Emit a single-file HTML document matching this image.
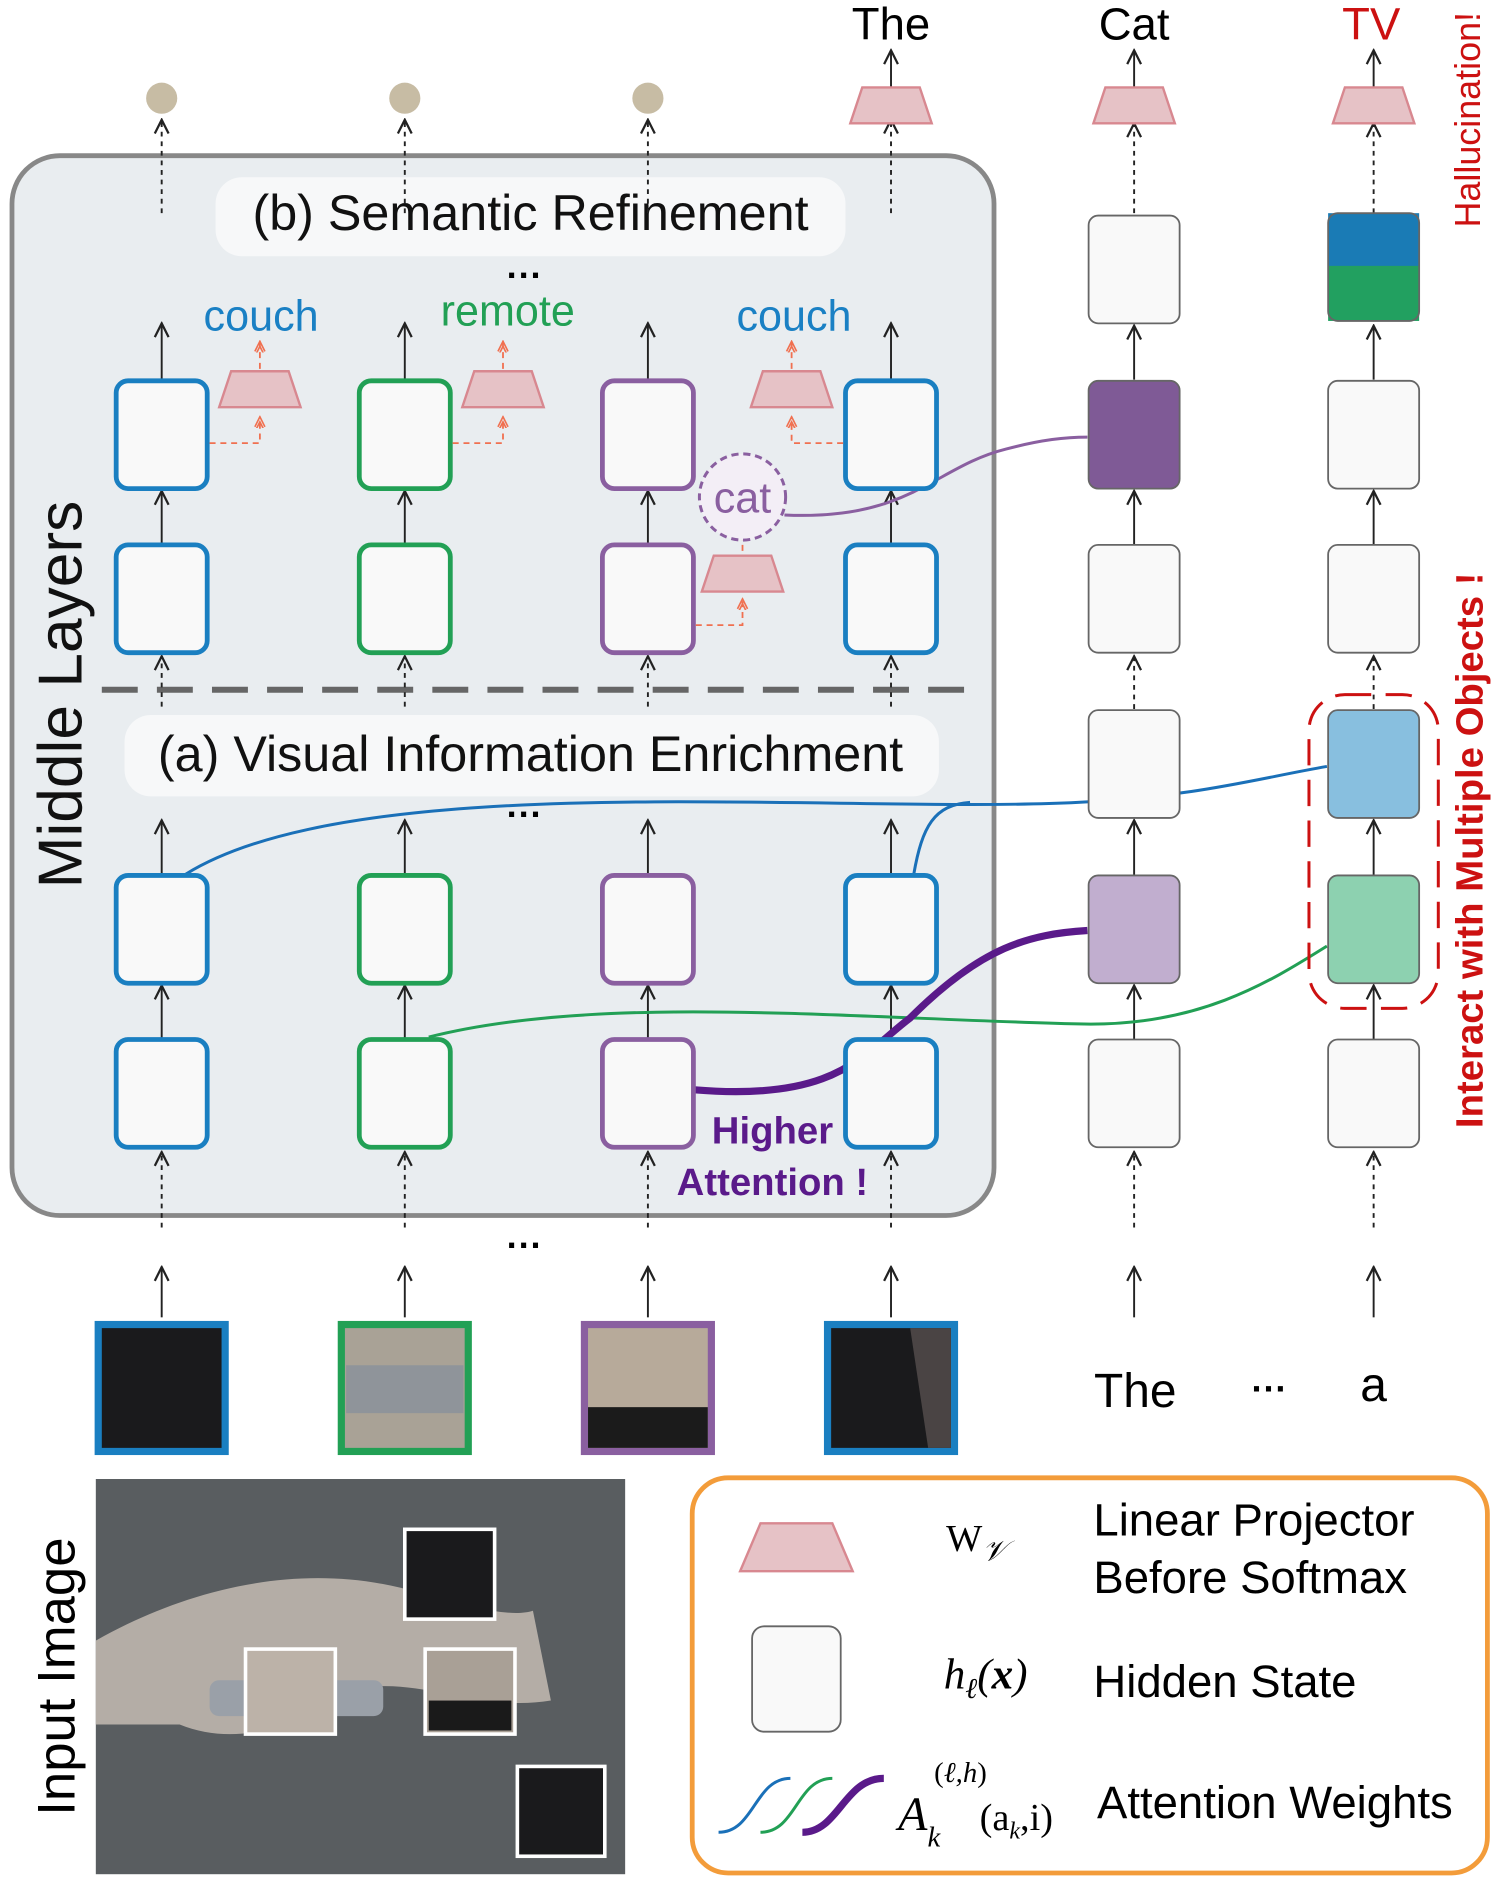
<!DOCTYPE html>
<html><head><meta charset="utf-8"><style>
html,body{margin:0;padding:0;background:#fff}
svg{display:block}
text{font-family:"Liberation Sans",sans-serif}
text.s{font-family:"Liberation Serif",serif}
</style></head><body>
<svg width="1497" height="1879" viewBox="0 0 1250 1569" xmlns="http://www.w3.org/2000/svg">
<defs>
<marker id="ah" viewBox="0 0 10 10" refX="9" refY="5" markerWidth="9" markerHeight="9" orient="auto-start-reverse"><path d="M1,1 L9,5 L1,9" fill="none" stroke="#222" stroke-width="1.3"/></marker>
<marker id="ahr" viewBox="0 0 10 10" refX="9" refY="5" markerWidth="7" markerHeight="7" orient="auto"><path d="M1,1 L9,5 L1,9 M-3,1 L5,5 L-3,9" fill="none" stroke="#f07050" stroke-width="1.3"/></marker>
<g id="tr"><polygon points="-24,-15 24,-15 34,15 -34,15" fill="#e6c2c6" stroke="#d88890" stroke-width="2"/></g>
</defs>
<rect x="10" y="130" width="820" height="885" rx="40" fill="#e9edf0" stroke="#888" stroke-width="4"/>
<rect x="180" y="148" width="526" height="66" rx="22" fill="#f7f8f9"/>
<text x="443" y="192" font-size="42" text-anchor="middle" fill="#111">(b) Semantic Refinement</text>
<rect x="104" y="597" width="680" height="68" rx="22" fill="#f7f8f9"/>
<text x="443" y="644" font-size="42" text-anchor="middle" fill="#111">(a) Visual Information Enrichment</text>
<text transform="translate(68,580) rotate(-90)" font-size="52" text-anchor="middle" fill="#111">Middle Layers</text>
<line x1="85" y1="576" x2="808" y2="576" stroke="#666" stroke-width="5" stroke-dasharray="30 16"/>
<text x="438" y="240" font-size="30" text-anchor="middle" font-weight="bold">···</text>
<text x="438" y="690" font-size="30" text-anchor="middle" font-weight="bold">···</text>
<text x="438" y="1050" font-size="30" text-anchor="middle" font-weight="bold">···</text>
<text x="1060" y="1170" font-size="30" text-anchor="middle" font-weight="bold">···</text>

<g stroke="#222" stroke-width="1.6" fill="none">
<g id="colarrows">
<line x1="135" y1="1025" x2="135" y2="962" stroke-dasharray="4 4" marker-end="url(#ah)"/>
<line x1="135" y1="868" x2="135" y2="823" marker-end="url(#ah)"/>
<line x1="135" y1="731" x2="135" y2="685" marker-end="url(#ah)"/>
<line x1="135" y1="590" x2="135" y2="548" stroke-dasharray="4 4" marker-end="url(#ah)"/>
<line x1="135" y1="455" x2="135" y2="410" marker-end="url(#ah)"/>
<line x1="135" y1="317" x2="135" y2="270" marker-end="url(#ah)"/>
<line x1="135" y1="178" x2="135" y2="100" stroke-dasharray="4 4" marker-end="url(#ah)"/>
<line x1="135" y1="1100" x2="135" y2="1058" marker-end="url(#ah)"/>
</g>
<use href="#colarrows" x="203"/>
<use href="#colarrows" x="406"/>
<use href="#colarrows" x="609"/>
<g id="c5">
<line x1="947" y1="1025" x2="947" y2="962" stroke-dasharray="4 4" marker-end="url(#ah)"/>
<line x1="947" y1="868" x2="947" y2="823" marker-end="url(#ah)"/>
<line x1="947" y1="731" x2="947" y2="685" marker-end="url(#ah)"/>
<line x1="947" y1="592" x2="947" y2="548" stroke-dasharray="4 4" marker-end="url(#ah)"/>
<line x1="947" y1="455" x2="947" y2="410" marker-end="url(#ah)"/>
<line x1="947" y1="317" x2="947" y2="272" marker-end="url(#ah)"/>
<line x1="947" y1="178" x2="947" y2="103" stroke-dasharray="4 4" marker-end="url(#ah)"/>
<line x1="947" y1="75" x2="947" y2="42" marker-end="url(#ah)"/>
<line x1="947" y1="1100" x2="947" y2="1058" marker-end="url(#ah)"/>
</g>
<use href="#c5" x="200"/>
<line x1="744" y1="75" x2="744" y2="42" marker-end="url(#ah)"/>
</g>

<circle cx="135" cy="82" r="13" fill="#c7bca4"/>
<circle cx="338" cy="82" r="13" fill="#c7bca4"/>
<circle cx="541" cy="82" r="13" fill="#c7bca4"/>
<use href="#tr" x="744" y="88"/><use href="#tr" x="947" y="88"/><use href="#tr" x="1147" y="88"/>
<text x="744" y="33" font-size="38" text-anchor="middle">The</text>
<text x="947" y="33" font-size="38" text-anchor="middle">Cat</text>
<text x="1145" y="33" font-size="38" text-anchor="middle" fill="#cc1111">TV</text>
<text transform="translate(1236,100) rotate(-90)" font-size="30" text-anchor="middle" fill="#cc1111">Hallucination!</text>
<text transform="translate(1238,710) rotate(-90)" font-size="32" font-weight="bold" text-anchor="middle" fill="#cc1111">Interact with Multiple Objects !</text>

<path d="M155,730 C300,640 700,680 900,670 C1000,665 1050,650 1108,640" stroke="#1a70b8" stroke-width="2.5" fill="none"/>
<path d="M763,730 C770,690 780,672 810,670" stroke="#1a70b8" stroke-width="2.5" fill="none"/>
<path d="M358,866 C500,830 700,850 900,855 C1000,858 1060,820 1108,790" stroke="#22a055" stroke-width="2.5" fill="none"/>
<path d="M580,910 C700,920 720,880 760,850 C820,790 860,780 908,777" stroke="#5a1a8a" stroke-width="6" fill="none"/>
<path d="M655,430 C760,435 780,390 840,375 C870,367 890,365 908,365" stroke="#8a5fa0" stroke-width="2.5" fill="none"/>
<rect x="1093" y="580" width="108" height="262" rx="30" fill="none" stroke="#cc1111" stroke-width="2.5" stroke-dasharray="22 12"/>

<g stroke-width="4" fill="#f9f9f9">
<g stroke="#1a7fc1"><rect x="97" y="318" width="76" height="90" rx="10"/><rect x="97" y="455" width="76" height="90" rx="10"/><rect x="97" y="731" width="76" height="90" rx="10"/><rect x="97" y="868" width="76" height="90" rx="10"/>
<rect x="706" y="318" width="76" height="90" rx="10"/><rect x="706" y="455" width="76" height="90" rx="10"/><rect x="706" y="731" width="76" height="90" rx="10"/><rect x="706" y="868" width="76" height="90" rx="10"/></g>
<g stroke="#22a055"><rect x="300" y="318" width="76" height="90" rx="10"/><rect x="300" y="455" width="76" height="90" rx="10"/><rect x="300" y="731" width="76" height="90" rx="10"/><rect x="300" y="868" width="76" height="90" rx="10"/></g>
<g stroke="#8a5fa0"><rect x="503" y="318" width="76" height="90" rx="10"/><rect x="503" y="455" width="76" height="90" rx="10"/><rect x="503" y="731" width="76" height="90" rx="10"/><rect x="503" y="868" width="76" height="90" rx="10"/></g>
</g>
<g stroke="#666" stroke-width="1.5">
<rect x="909" y="180" width="76" height="90" rx="8" fill="#f9f9f9"/>
<rect x="909" y="318" width="76" height="90" rx="8" fill="#7f5a96"/>
<rect x="909" y="455" width="76" height="90" rx="8" fill="#f9f9f9"/>
<rect x="909" y="593" width="76" height="90" rx="8" fill="#f9f9f9"/>
<rect x="909" y="731" width="76" height="90" rx="8" fill="#c1aecf"/>
<rect x="909" y="868" width="76" height="90" rx="8" fill="#f9f9f9"/>
<rect x="1109" y="318" width="76" height="90" rx="8" fill="#f9f9f9"/>
<rect x="1109" y="455" width="76" height="90" rx="8" fill="#f9f9f9"/>
<rect x="1109" y="593" width="76" height="90" rx="8" fill="#88bfdf"/>
<rect x="1109" y="731" width="76" height="90" rx="8" fill="#8dd1b0"/>
<rect x="1109" y="868" width="76" height="90" rx="8" fill="#f9f9f9"/>
</g>
<rect x="1109" y="178" width="76" height="46" fill="#1a7bb5"/>
<rect x="1109" y="222" width="76" height="46" fill="#22a060"/>
<rect x="1109" y="178" width="76" height="90" rx="8" fill="none" stroke="#666" stroke-width="1.5"/>

<g stroke="#f07050" stroke-width="1.5" fill="none" stroke-dasharray="5 4">
<path d="M175,370 H217 V348" marker-end="url(#ahr)"/><line x1="217" y1="308" x2="217" y2="285" marker-end="url(#ahr)"/>
<path d="M378,370 H420 V348" marker-end="url(#ahr)"/><line x1="420" y1="308" x2="420" y2="285" marker-end="url(#ahr)"/>
<path d="M704,370 H661 V348" marker-end="url(#ahr)"/><line x1="661" y1="308" x2="661" y2="285" marker-end="url(#ahr)"/>
<path d="M581,522 H620 V500" marker-end="url(#ahr)"/><line x1="620" y1="460" x2="620" y2="438" marker-end="url(#ahr)"/>
</g>
<use href="#tr" x="217" y="325"/><use href="#tr" x="420" y="325"/><use href="#tr" x="661" y="325"/><use href="#tr" x="620" y="479"/>
<text x="218" y="276" font-size="36" text-anchor="middle" fill="#1a80c4">couch</text>
<text x="424" y="272" font-size="36" text-anchor="middle" fill="#22a055">remote</text>
<text x="663" y="276" font-size="36" text-anchor="middle" fill="#1a80c4">couch</text>
<circle cx="620" cy="415" r="36" fill="#f3eef6" stroke="#8a5fa0" stroke-width="2.5" stroke-dasharray="6 4"/>
<text x="620" y="428" font-size="36" text-anchor="middle" fill="#8a5fa0">cat</text>
<text x="645" y="955" font-size="32" font-weight="bold" text-anchor="middle" fill="#5a1a8a">Higher</text>
<text x="645" y="998" font-size="32" font-weight="bold" text-anchor="middle" fill="#5a1a8a">Attention !</text>

<rect x="82" y="1106" width="106" height="106" fill="#1a1a1c" stroke="#1a7fc1" stroke-width="6"/>
<rect x="285" y="1106" width="106" height="106" fill="#a9a296" stroke="#22a055" stroke-width="6"/>
<rect x="289" y="1140" width="98" height="40" fill="#8f949a"/>
<rect x="488" y="1106" width="106" height="106" fill="#b7aa9a" stroke="#8a5fa0" stroke-width="6"/>
<rect x="491" y="1175" width="100" height="34" fill="#1b1b1b"/>
<rect x="691" y="1106" width="106" height="106" fill="#1a1a1c" stroke="#1a7fc1" stroke-width="6"/>
<polygon points="760,1109 794,1109 794,1209 775,1209" fill="#4a4444"/>
<text x="948" y="1175" font-size="40" text-anchor="middle">The</text>
<text x="1147" y="1170" font-size="40" text-anchor="middle">a</text>

<text transform="translate(62,1400) rotate(-90)" font-size="44" text-anchor="middle">Input Image</text>
<rect x="80" y="1235" width="442" height="330" fill="#595d60"/>
<path d="M80,1370 C150,1330 250,1300 350,1330 C400,1345 430,1350 445,1345 L460,1420 C400,1430 350,1400 300,1410 C250,1440 200,1460 150,1440 L80,1440 Z" fill="#b4ada6"/>
<rect x="175" y="1403" width="145" height="30" rx="8" fill="#9aa0a8"/>
<g fill="#1a1a1c" stroke="#fff" stroke-width="3">
<rect x="338" y="1277" width="75" height="75"/><rect x="432" y="1475" width="73" height="75"/>
</g>
<rect x="205" y="1377" width="75" height="71" fill="#bcb2a8" stroke="#fff" stroke-width="3"/>
<rect x="355" y="1377" width="75" height="71" fill="#a9a096" stroke="#fff" stroke-width="3"/>
<rect x="358" y="1420" width="69" height="25" fill="#1a1a1a"/>

<rect x="578" y="1234" width="664" height="330" rx="30" fill="#fff" stroke="#f39c3a" stroke-width="4"/>
<polygon points="635,1272 695,1272 712,1312 618,1312" fill="#e6c2c6" stroke="#d88890" stroke-width="2"/>
<text class="s" x="790" y="1295" font-size="32">W<tspan font-style="italic" font-size="24" dy="8">𝒱</tspan></text>
<text x="913" y="1282" font-size="38">Linear Projector</text>
<text x="913" y="1330" font-size="38">Before Softmax</text>
<rect x="628" y="1358" width="74" height="88" rx="10" fill="#f9f9f9" stroke="#666" stroke-width="1.5"/>
<text class="s" x="788" y="1410" font-size="36" font-style="italic">h<tspan font-size="24" dy="8">ℓ</tspan><tspan dy="-8">(<tspan font-weight="bold">x</tspan>)</tspan></text>
<text x="913" y="1417" font-size="38">Hidden State</text>
<path d="M600,1530 C630,1530 630,1485 660,1485" stroke="#1a70b8" stroke-width="2.5" fill="none"/>
<path d="M635,1530 C665,1530 665,1485 695,1485" stroke="#22a055" stroke-width="2.5" fill="none"/>
<path d="M670,1530 C700,1530 705,1485 738,1485" stroke="#5a1a8a" stroke-width="6" fill="none"/>
<text class="s" x="750" y="1528" font-size="40" font-style="italic">A<tspan font-size="24" dy="14">k</tspan></text>
<text class="s" x="780" y="1488" font-size="24">(<tspan font-style="italic">ℓ,h</tspan>)</text>
<text class="s" x="818" y="1528" font-size="32">(a<tspan font-size="20" font-style="italic" dy="7">k</tspan><tspan dy="-7">,i)</tspan></text>
<text x="916" y="1518" font-size="38">Attention Weights</text>
</svg>
</body></html>
